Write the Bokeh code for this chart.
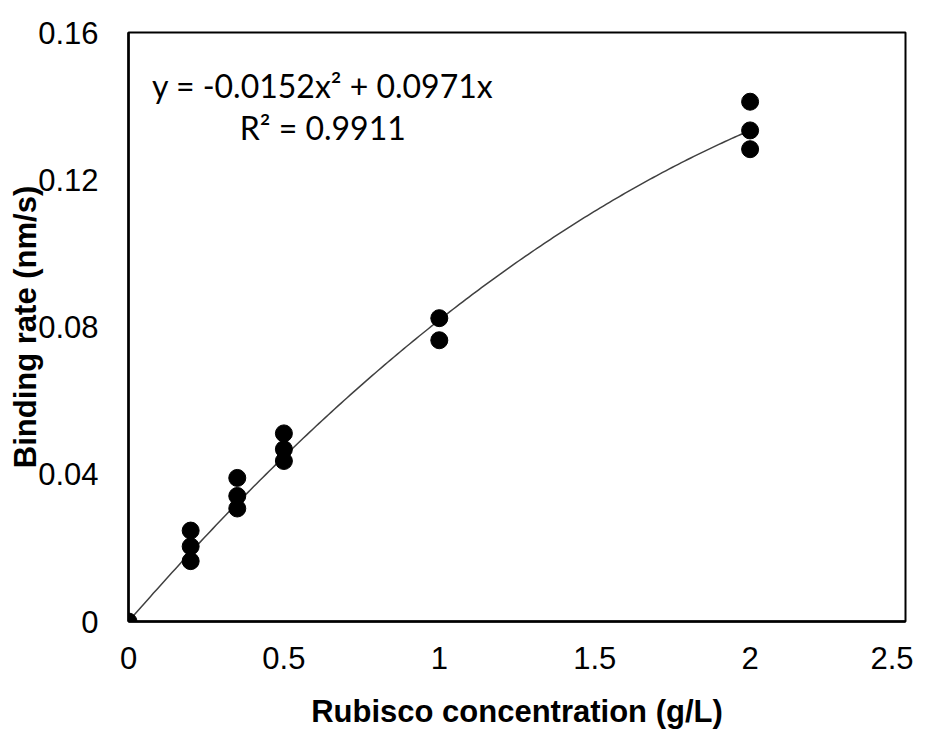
import numpy as np
from bokeh.plotting import figure
from bokeh.models import Range1d, FixedTicker, NumeralTickFormatter, Label, ColumnDataSource
from bokeh.embed import file_html
from bokeh.resources import INLINE

# ---- data ----
conc = [0.0, 0.2, 0.2, 0.2, 0.35, 0.35, 0.35, 0.5, 0.5, 0.5, 1.0, 1.0, 2.0, 2.0, 2.0]
rate = [0.0, 0.0247, 0.0204, 0.0164, 0.0390, 0.0341, 0.0307, 0.0511, 0.0468, 0.0436,
        0.0824, 0.0764, 0.1412, 0.1334, 0.1283]
fit_a = -0.0152
fit_b = 0.0971
x_ticks = [0, 0.5, 1, 1.5, 2, 2.5]
y_ticks = [0, 0.04, 0.08, 0.12, 0.16]
eq_text = "y = -0.0152x\u00b2 + 0.0971x"
r2_text = "R\u00b2 = 0.9911"
x_title = "Rubisco concentration (g/L)"
y_title = "Binding rate (nm/s)"

p = figure(width=913, height=731, output_backend="svg", toolbar_location=None,
           x_range=Range1d(0, 2.5), y_range=Range1d(0, 0.16),
           min_border_left=128, min_border_right=8, min_border_top=32, min_border_bottom=104)
p.background_fill_color = "white"
p.border_fill_color = "white"
p.outline_line_color = "black"
p.outline_line_width = 2
p.grid.visible = False

# fitted curve
xf = np.linspace(0, 2, 200)
yf = fit_a * xf ** 2 + fit_b * xf
p.line(xf, yf, line_color="#404040", line_width=1.5)

src = ColumnDataSource(dict(x=conc, y=rate))
p.scatter("x", "y", source=src, size=17, fill_color="black", line_color="black")

for ax in (p.xaxis[0], p.yaxis[0]):
    ax.axis_line_width = 2.5
    ax.axis_line_color = "black"
    ax.major_tick_line_color = None
    ax.minor_tick_line_color = None
    ax.major_tick_out = 0
    ax.major_tick_in = 0
    ax.major_label_text_font = "Liberation Sans"
    ax.major_label_text_font_size = "31px"
    ax.major_label_text_color = "black"
    ax.axis_label_text_font = "Liberation Sans"
    ax.axis_label_text_font_size = "31px"
    ax.axis_label_text_font_style = "bold"
    ax.axis_label_text_color = "black"

p.xaxis.ticker = FixedTicker(ticks=x_ticks)
p.yaxis.ticker = FixedTicker(ticks=y_ticks)
p.xaxis.formatter = NumeralTickFormatter(format="0.[0]")
p.yaxis.formatter = NumeralTickFormatter(format="0.[00]")
p.xaxis.axis_label = x_title
p.yaxis.axis_label = y_title
p.xaxis.major_label_standoff = 25
p.yaxis.major_label_standoff = 30
p.xaxis.axis_label_standoff = 22
p.yaxis.axis_label_standoff = -8

p.add_layout(Label(x=0.625, y=0.1457, text=eq_text, text_align="center",
                   text_baseline="alphabetic", text_font="Lato", text_font_size="32px",
                   text_color="black"))
p.add_layout(Label(x=0.625, y=0.1342, text=r2_text, text_align="center",
                   text_baseline="alphabetic", text_font="Lato", text_font_size="32px",
                   text_color="black"))

open("out.html", "w").write(file_html(p, INLINE))
